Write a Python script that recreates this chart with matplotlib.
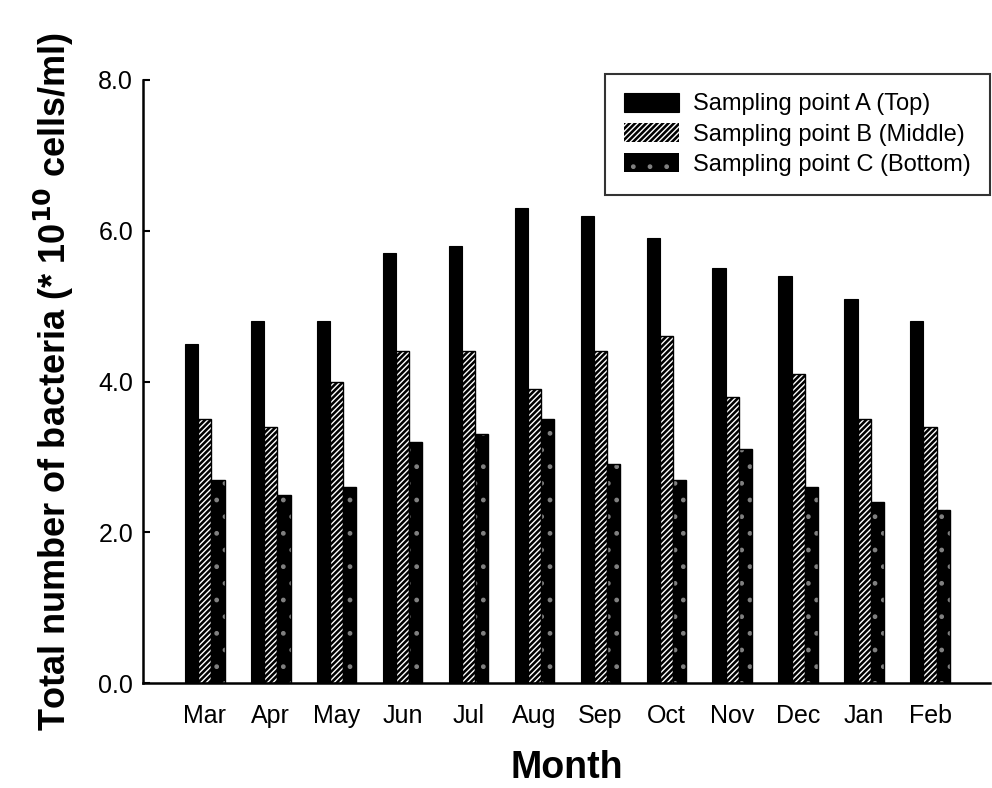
import numpy as np
import matplotlib.pyplot as plt

plt.rcParams['font.family'] = ['Liberation Sans', 'DejaVu Sans']
plt.rcParams['hatch.linewidth'] = 1.0

months = ['Mar', 'Apr', 'May', 'Jun', 'Jul', 'Aug', 'Sep', 'Oct', 'Nov', 'Dec', 'Jan', 'Feb']
point_a = [4.5, 4.8, 4.8, 5.7, 5.8, 6.3, 6.2, 5.9, 5.5, 5.4, 5.1, 4.8]
point_b = [3.5, 3.4, 4.0, 4.4, 4.4, 3.9, 4.4, 4.6, 3.8, 4.1, 3.5, 3.4]
point_c = [2.7, 2.5, 2.6, 3.2, 3.3, 3.5, 2.9, 2.7, 3.1, 2.6, 2.4, 2.3]
labels = ['Sampling point A (Top)', 'Sampling point B (Middle)', 'Sampling point C (Bottom)']

fig = plt.figure(figsize=(9.92, 7.88), dpi=100)
ax = fig.add_axes([0.144, 0.1332, 0.854, 0.7653])

x = np.arange(len(months))
w = 0.2
ba = ax.bar(x - w, point_a, w, color='black', edgecolor='black', linewidth=0.8)
bb = ax.bar(x, point_b, w, color='black', edgecolor='white', hatch='//////', linewidth=0)
ax.bar(x, point_b, w, fill=False, edgecolor='black', linewidth=1.0)
bc = ax.bar(x + w, point_c, w, color='black', edgecolor='0.5', hatch='.', linewidth=0)
ax.bar(x + w, point_c, w, fill=False, edgecolor='black', linewidth=1.0)

ax.set_xlim(-0.94, 11.91)
ax.set_ylim(0, 8)
ax.set_yticks([0, 2, 4, 6, 8])
ax.set_yticklabels(['0.0', '2.0', '4.0', '6.0', '8.0'])
ax.set_xticks(x)
ax.set_xticklabels(months)
ax.tick_params(axis='y', direction='in', length=5, width=1.5, labelsize=18, pad=7)
ax.tick_params(axis='x', length=0, labelsize=18, pad=15)
for s in ['top', 'right']:
    ax.spines[s].set_visible(False)
for s in ['left', 'bottom']:
    ax.spines[s].set_linewidth(1.8)

ax.set_ylabel('Total number of bacteria (* 10$^{\\mathbf{10}}$ cells/ml)', fontsize=26,
              fontweight='bold', labelpad=16)
ax.set_xlabel('Month', fontsize=27, fontweight='bold', labelpad=16)

leg = ax.legend([ba, bb, bc], labels, loc='upper right', bbox_to_anchor=(1.0, 1.01),
                fontsize=17, frameon=True, fancybox=False, handlelength=2.33,
                handleheight=0.85, borderpad=0.8, labelspacing=0.32, handletextpad=0.6,
                borderaxespad=0)
leg.get_frame().set_edgecolor('black')
leg.get_frame().set_linewidth(1.5)

plt.savefig('out.png', dpi=100)
